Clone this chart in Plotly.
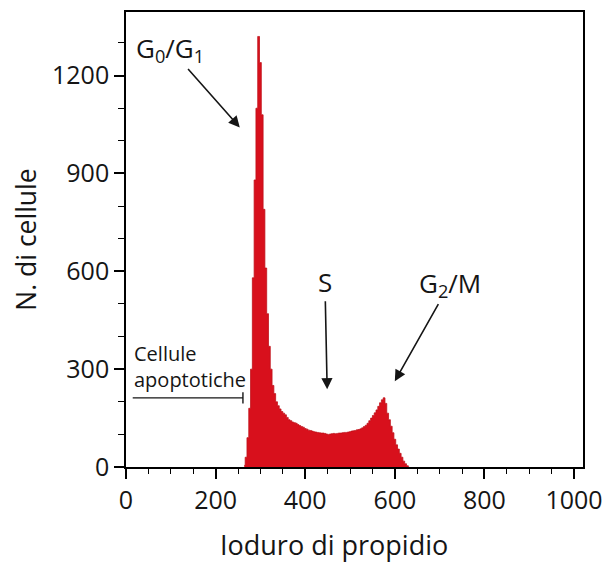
import plotly.graph_objects as go

# Propidium iodide fluorescence channel (bin centres) and cell counts
channel = [264, 268, 272, 276, 280, 284, 288, 292, 296, 300, 304, 308, 312, 316, 320,
           324, 328, 332, 336, 340, 344, 348, 352, 356, 360, 364, 368, 372, 376, 380,
           384, 388, 392, 396, 400, 404, 408, 412, 416, 420, 424, 428, 432, 436, 440,
           444, 448, 452, 456, 460, 464, 468, 472, 476, 480, 484, 488, 492, 496, 500,
           504, 508, 512, 516, 520, 524, 528, 532, 536, 540, 544, 548, 552, 556, 560,
           564, 568, 572, 576, 580, 584, 588, 592, 596, 600, 604, 608, 612, 616, 620,
           624, 628, 632]
counts = [5, 30, 90, 180, 300, 580, 880, 1100, 1320, 1240, 1080, 790, 610, 470, 370,
          300, 250, 225, 200, 188, 178, 170, 165, 160, 152, 145, 142, 138, 136, 134,
          130, 127, 124, 122, 118, 116, 113, 112, 110, 108, 107, 106, 105, 104, 104,
          103, 101, 100, 101, 102, 103, 102, 103, 104, 104, 105, 106, 106, 107, 108,
          110, 111, 112, 114, 115, 117, 120, 124, 128, 134, 142, 150, 158, 166, 175,
          186, 197, 206, 212, 195, 165, 145, 125, 105, 85, 68, 55, 42, 30, 18,
          10, 4, 0]

x_ticks = [0, 200, 400, 600, 800, 1000]
y_ticks = [0, 300, 600, 900, 1200]

x_title = "Ioduro di propidio"
y_title = "N. di cellule"

# Phase labels (text position) with arrows pointing at the peaks (arrow tip)
phase_texts = ["G<sub>0</sub>/G<sub>1</sub>", "S", "G<sub>2</sub>/M"]
phase_text_x = [98, 444, 723]
phase_text_y = [1283, 568, 562]
phase_tip_x = [254, 449, 600]
phase_tip_y = [1041, 238, 263]

# apoptotic-cell gate
gate_text = "Cellule<br>apoptotiche"
gate_text_x = 14
gate_text_y = 307
gate_x = [15, 261]
gate_y = 212
gate_cap = [195, 229]

red = "#d8101c"
font = "Open Sans"
ink = "#151515"

fig = go.Figure()
fig.add_trace(go.Scatter(
    x=channel, y=counts, mode="lines", line=dict(shape="hvh", color="#c0121b", width=0.8),
    fill="tozeroy", fillcolor=red, hoverinfo="skip", showlegend=False))

axis_common = dict(showline=True, linecolor="black", linewidth=1.6, mirror=True,
                   ticks="outside", tickcolor="black", tickwidth=1.6, ticklen=10,
                   showgrid=False, zeroline=False,
                   tickfont=dict(family=font, size=25, color=ink))

fig.update_xaxes(range=[0, 1020], tickvals=x_ticks, **axis_common,
                 minor=dict(dtick=50, tick0=0, ticks="outside", ticklen=5, tickwidth=1.4, tickcolor="black"))
fig.update_yaxes(range=[0, 1395], tickvals=y_ticks, **axis_common,
                 minor=dict(dtick=100, tick0=0, ticks="outside", ticklen=6, tickwidth=1.4, tickcolor="black"),
                 title=dict(text=y_title, font=dict(family=font, size=26.5, color=ink), standoff=12))

annotations = [
    # x-axis title (sits slightly left of the plot centre in the reference)
    dict(x=0.455, y=-0.171, xref="paper", yref="paper", text=x_title, showarrow=False,
         xanchor="center", yanchor="middle", font=dict(family=font, size=27, color=ink)),
    dict(x=gate_text_x, y=gate_text_y, xref="x", yref="y", text=gate_text, showarrow=False,
         xanchor="left", yanchor="middle", align="left",
         font=dict(family=font, size=20, color=ink)),
]
for t, tx, ty, hx, hy in zip(phase_texts, phase_text_x, phase_text_y, phase_tip_x, phase_tip_y):
    annotations.append(dict(
        x=hx, y=hy, ax=tx, ay=ty, xref="x", yref="y", axref="x", ayref="y",
        text=t, showarrow=True, arrowhead=2, arrowsize=1.4, arrowwidth=1.6,
        arrowcolor=ink, font=dict(family=font, size=26, color=ink)))

# the page body adds an 8 px offset, so the figure is sized to fit the window
fig.update_layout(
    width=600, height=555,
    margin=dict(l=118, r=25, t=2, b=96),
    paper_bgcolor="white", plot_bgcolor="white",
    annotations=annotations,
    shapes=[
        dict(type="line", xref="x", yref="y", x0=gate_x[0], x1=gate_x[1], y0=gate_y, y1=gate_y,
             line=dict(color=ink, width=1.4)),
        dict(type="line", xref="x", yref="y", x0=gate_x[1], x1=gate_x[1], y0=gate_cap[0], y1=gate_cap[1],
             line=dict(color=ink, width=1.4)),
    ],
)

fig.write_html("out.html")
